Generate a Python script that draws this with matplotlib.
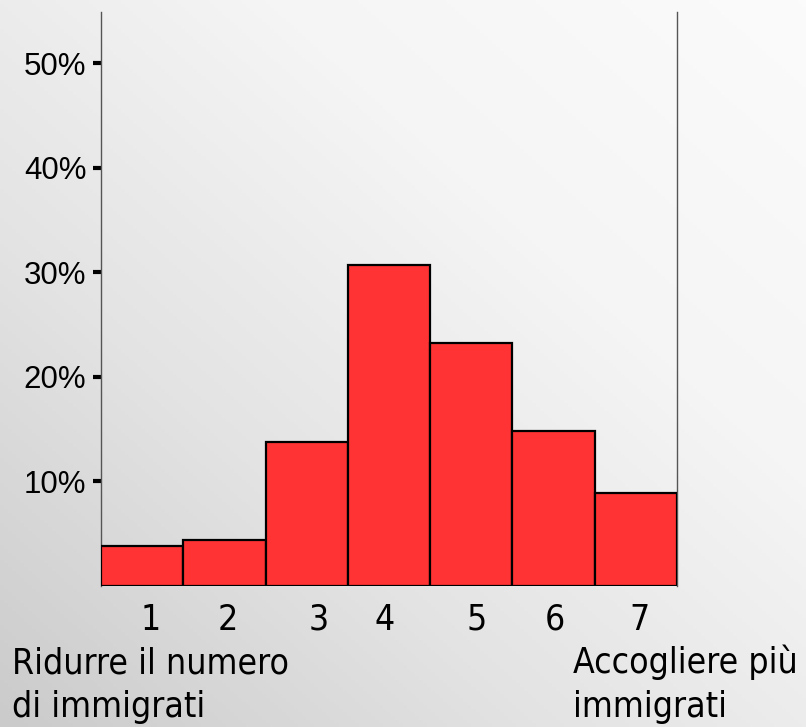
import numpy as np
import matplotlib
matplotlib.use("Agg")
import matplotlib.pyplot as plt
from matplotlib.colors import LinearSegmentedColormap
from matplotlib.transforms import blended_transform_factory

# ---- data ----
categories = ["1", "2", "3", "4", "5", "6", "7"]
values = [3.8, 4.4, 13.8, 30.7, 23.2, 14.8, 8.9]   # percent
yticks = [10, 20, 30, 40, 50]
ytick_labels = ["10%", "20%", "30%", "40%", "50%"]
left_label = ["Ridurre il numero", "di immigrati"]
right_label = ["Accogliere più", "immigrati"]

# layout-only offsets for the slightly irregular category labels
label_offsets = [0.10, 0.04, 0.15, -0.05, 0.07, 0.02, 0.04]

W, H = 806, 727
fig = plt.figure(figsize=(W / 100, H / 100), dpi=100)

# background gradient: light top-right, grey bottom-left
bg = fig.add_axes([0, 0, 1, 1], zorder=-10)
yy, xx = np.mgrid[0:1:200j, 0:1:200j]
g = np.clip((xx + (1 - yy)) / 2.0, 0, 1)
cmap = LinearSegmentedColormap.from_list("bg", ["#cbcbcb", "#e3e3e3", "#f5f5f5", "#fbfbfb"])
bg.imshow(g, cmap=cmap, origin="upper", extent=[0, 1, 0, 1], aspect="auto",
          vmin=0, vmax=1)
bg.axis("off")

ax = fig.add_axes([101 / W, 1 - 586 / H, 576 / W, 574 / H])
ax.patch.set_alpha(0)

x = np.arange(1, len(values) + 1)
ax.bar(x, values, width=1.0, color="#ff3333", edgecolor="black", linewidth=1.6,
       zorder=3)

ax.set_xlim(0.5, len(values) + 0.5)
ax.set_ylim(0, 54.9)

for s in ["top", "bottom"]:
    ax.spines[s].set_visible(False)
for s in ["left", "right"]:
    ax.spines[s].set_color("#555555")
    ax.spines[s].set_linewidth(1.0)

ax.set_yticks(yticks)
ax.set_yticklabels(ytick_labels, fontsize=22.5, fontfamily="Liberation Sans")
ax.tick_params(axis="y", length=6, width=3, color="black", pad=4.5, right=False)
ax.set_xticks([])

font = dict(fontsize=25.5, fontfamily="DejaVu Sans", fontstretch="condensed",
            color="black")

trans = blended_transform_factory(ax.transData, fig.transFigure)
for xi, off, lab in zip(x, label_offsets, categories):
    ax.text(xi + off, 1 - 630 / H, lab, transform=trans, ha="center",
            va="baseline", **font)

baselines = [673, 717]
for line, yb in zip(left_label, baselines):
    fig.text(12 / W, 1 - yb / H, line, ha="left", va="baseline", **font)
for line, yb in zip(right_label, baselines):
    fig.text(573 / W, 1 - yb / H, line, ha="left", va="baseline", **font)

fig.savefig("out.png", dpi=100)
